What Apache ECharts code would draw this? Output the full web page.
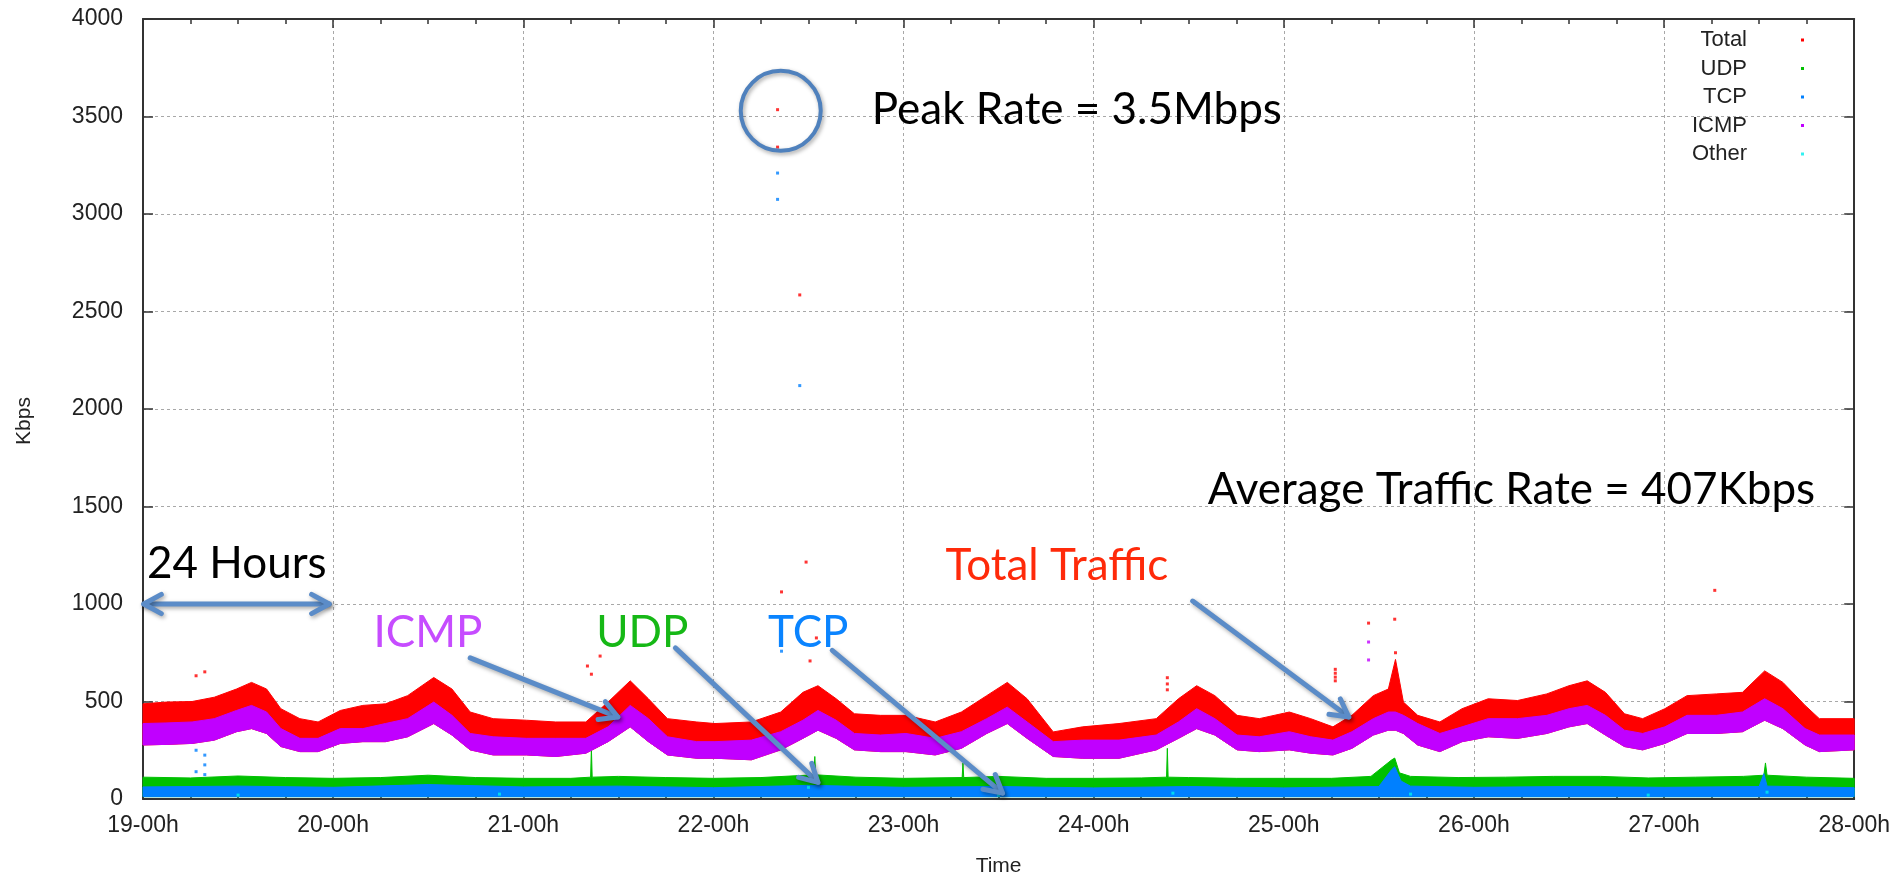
<!DOCTYPE html>
<html>
<head>
<meta charset="utf-8">
<script src="https://cdn.jsdelivr.net/npm/echarts@6/dist/echarts.min.js"></script>
<style>
html,body{margin:0;padding:0;background:#fff;}
#main{width:1893px;height:883px;}
</style>
</head>
<body>
<div id="main"></div>
<script>
// ---------------- DATA ----------------
const xTickLabels = ['19-00h','20-00h','21-00h','22-00h','23-00h','24-00h','25-00h','26-00h','27-00h','28-00h'];
const seriesNames = ['Total','UDP','TCP','ICMP','Other'];

// hours since 19-00h
const bandHours = [0,2.9,6.2,9.0,11.8,13.7,15.6,17.4,19.8,22.1,24.9,27.75,30.6,33.4,36.7,39.0,41.3,44.2,48.4,52.1,55.9,58.7,61.5,63.8,66.2,69.9,
  72.2,76.8,80.5,83.3,85.2,87.5,89.8,93.1,96.3,100.0,103.3,106.5,109.1,111.6,114.9,118.6,123.2,127.9,130.7,133.0,135.3,138.1,140.9,
  144.7,147.4,150.2,152.6,155.3,157.2,158.1,159.1,160.9,163.7,166.5,169.8,173.5,177.2,180.0,182.3,184.6,187.0,189.3,192.1,194.9,198.6,201.9,204.7,207.0,209.8,211.6,216];
const totalUpper = [488,497,500,522,564,598,564,463,412,395,454,480,488,530,623,564,446,412,404,395,395,497,606,514,412,395,
  387,395,446,547,581,514,437,429,429,395,446,530,598,514,344,370,387,412,514,581,530,429,412,
  446,412,370,429,530,564,716,497,429,395,463,514,505,539,581,606,547,437,412,463,530,539,547,657,598,480,412,412];
const icmpUpper = [387,390,395,412,454,480,446,361,311,311,361,361,387,412,497,429,336,319,311,311,311,370,480,412,319,294,
  294,302,345,404,454,404,336,328,336,311,345,412,471,395,294,302,302,328,395,463,412,328,319,
  345,319,302,345,412,446,446,429,387,336,370,412,412,429,463,480,429,353,336,370,429,429,446,514,463,361,328,328];
const icmpLower = [277,280,285,302,345,361,336,269,243,243,285,294,294,319,387,328,252,226,226,218,235,294,370,294,226,209,
  209,201,252,311,353,311,252,243,243,226,260,336,387,311,218,209,209,252,311,361,328,252,243,
  252,235,226,260,328,353,353,336,277,243,294,319,311,336,370,387,328,269,252,285,336,336,345,404,361,277,243,252];

const udpHours = [0,6,12,18,24,30,36,42,48,54,56.5,56.6,56.7,60,66,72,78,84.7,84.8,84.9,90,96,103.4,103.5,103.6,108,114,120,126,129.2,
  129.3,129.4,132,138,144,150,155,157.6,158.0,158.6,160,166,172,178,184,190,196,202,204.6,204.8,205.0,210,216];
const udpUpper = [112,108,118,110,106,110,122,110,106,106,112,260,112,116,110,106,110,124,218,124,112,106,110,184,110,116,106,106,108,112,
  260,112,110,106,106,106,116,200,210,134,116,110,112,116,116,108,112,116,122,185,122,112,106];
const udpLower = [12,12,12,12,12,12,12,12,12,12,12,12,12,12,12,12,12,12,12,12,12,12,12,12,12,12,12,12,12,12,
  12,12,12,12,12,12,12,12,12,12,12,12,12,12,12,12,12,12,12,12,12,12,12];

const tcpHours = [0,12,24,36,48,60,72,84,96,108,120,132,144,156,157.6,158.0,158.8,160,168,180,192,204,204.6,205.0,216];
const tcpUpper = [62,66,60,74,62,66,58,70,60,64,57,64,57,64,150,165,92,66,60,64,60,64,130,66,58];
const tcpLower = [12,12,12,12,12,12,12,12,12,12,12,12,12,12,12,12,12,12,12,12,12,12,12,12,12];

// isolated points [hour, kbps]
const totalDots = [[6.7,632],[7.8,652],[56.1,682],[56.6,640],[57.7,733],[80.1,3535],[80.1,3343],[80.6,1062],[82.9,2585],
  [83.7,1215],[84.2,708],[85.0,826],[129.3,560],[129.3,590],[129.3,622],[150.5,606],[150.5,625],[150.5,645],[150.5,665],
  [154.7,902],[158.0,922],[158.1,750],[198.4,1070]];
const tcpDots = [[80.1,3210],[80.1,3075],[82.9,2120],[80.6,758],[6.7,250],[7.8,225],[7.8,175],[6.7,140],[7.8,125]];
const icmpDots = [[154.7,805],[154.7,713]];
const otherDots = [[12,20],[45,25],[84,60],[108,20],[130,30],[160,25],[190,20],[205,35]];

// ------------- annotations (data coordinates) -------------
const annotationTexts = [
  {text:'Peak Rate = 3.5Mbps', at:[92.0,3534], color:'#000000'},
  {text:'Average Traffic Rate = 407Kbps', at:[134.4,1588], color:'#000000'},
  {text:'Total Traffic', at:[101.3,1198], color:'#ff2a0a'},
  {text:'24 Hours', at:[0.5,1204], color:'#000000'},
  {text:'ICMP', at:[29.1,850], color:'#c64cff'},
  {text:'UDP', at:[57.2,850], color:'#16b816'},
  {text:'TCP', at:[78.9,850], color:'#0a84ff'}
];
const annotationArrows = [
  {from:[0.1,1000], to:[23.5,1000], both:true},
  {from:[41.3,724], to:[59.95,420]},
  {from:[67.2,775], to:[85.2,85]},
  {from:[87.0,762], to:[108.5,30]},
  {from:[132.5,1015], to:[152.2,420]}
];
const peakCircle = {center:[80.5,3529]};

// ---------------- CHART ----------------
const colors = {Total:'#ff0000', UDP:'#00c000', TCP:'#0080ff', ICMP:'#c000ff', Other:'#00eeee'};
const FONT = '"Liberation Sans", Arial, sans-serif';

function bandSeries(name, hours, lower, upper) {
  const color = colors[name];
  return {
    type:'custom', name:name, coordinateSystem:'cartesian2d',
    itemStyle:{color:color},
    data: hours.map((h,i)=>[h, lower[i], upper[i]]),
    encode:{x:0, y:[1,2]},
    silent:true,
    renderItem:function(params, api){
      if (params.dataIndex !== 0) return null;
      const pts = [];
      for (let i=0;i<hours.length;i++) pts.push(api.coord([hours[i], upper[i]]));
      for (let i=hours.length-1;i>=0;i--) pts.push(api.coord([hours[i], lower[i]]));
      return {type:'polygon', shape:{points:pts}, style:{fill:color, stroke:color, lineWidth:1}};
    }
  };
}
function dotSeries(name, pts) {
  return {type:'scatter', name:name, data:pts, symbol:'rect', symbolSize:3,
    itemStyle:{color:colors[name]}, silent:true};
}

const axisColor = '#333';
const gridLine = {show:true, lineStyle:{color:'#a8a8a8', type:[3,3], width:1}};

const option = {
  animation:false,
  color: seriesNames.map(n=>colors[n]),
  grid:{left:143, right:25, top:19, bottom:84, containLabel:false},
  legend:{
    data: seriesNames.map(n=>({name:n})),
    orient:'vertical', right:89, top:28, align:'right', padding:0,
    icon:'rect', itemWidth:3, itemHeight:3, itemGap:4.5,
    selectedMode:false,
    textStyle:{fontFamily:FONT, fontSize:22, color:'#222', lineHeight:24, padding:[0,49,0,0]}
  },
  xAxis:[{
    type:'value', min:0, max:216, interval:24, position:'bottom',
    axisLine:{show:true, onZero:false, lineStyle:{color:axisColor, width:2}},
    axisTick:{show:true, inside:true, length:9, lineStyle:{color:axisColor, width:1.5}},
    minorTick:{show:true, splitNumber:4, length:5, lineStyle:{color:axisColor, width:1.5}},
    axisLabel:{formatter:v=>xTickLabels[Math.round(v/24)], fontFamily:FONT, fontSize:23, color:'#222', margin:15},
    splitLine:gridLine,
    name:'Time', nameLocation:'middle', nameGap:57,
    nameTextStyle:{fontFamily:FONT, fontSize:21, color:'#222'}
  },{
    type:'value', min:0, max:216, interval:24, position:'top',
    axisLine:{show:true, onZero:false, lineStyle:{color:axisColor, width:2}},
    axisTick:{show:true, inside:true, length:9, lineStyle:{color:axisColor, width:1.5}},
    minorTick:{show:true, splitNumber:4, length:5, lineStyle:{color:axisColor, width:1.5}},
    axisLabel:{show:false}, splitLine:{show:false}
  }],
  yAxis:[{
    type:'value', min:0, max:4000, interval:500, position:'left',
    axisLine:{show:true, onZero:false, lineStyle:{color:axisColor, width:2}},
    axisTick:{show:true, inside:true, length:10, lineStyle:{color:axisColor, width:1.5}},
    axisLabel:{formatter:v=>String(v), fontFamily:FONT, fontSize:23, color:'#222', margin:20},
    splitLine:gridLine,
    name:'Kbps', nameLocation:'middle', nameGap:108,
    nameTextStyle:{fontFamily:FONT, fontSize:21, color:'#222', padding:[0,24,0,0]}
  },{
    type:'value', min:0, max:4000, interval:500, position:'right',
    axisLine:{show:true, onZero:false, lineStyle:{color:axisColor, width:2}},
    axisTick:{show:true, inside:true, length:10, lineStyle:{color:axisColor, width:1.5}},
    axisLabel:{show:false}, splitLine:{show:false}
  }],
  series:[
    bandSeries('Total', bandHours, icmpLower, totalUpper),
    dotSeries('Total', totalDots),
    bandSeries('UDP', udpHours, udpLower, udpUpper),
    bandSeries('TCP', tcpHours, tcpLower, tcpUpper),
    dotSeries('TCP', tcpDots),
    bandSeries('ICMP', bandHours, icmpLower, icmpUpper),
    dotSeries('ICMP', icmpDots),
    dotSeries('Other', otherDots)
  ]
};

const chart = echarts.init(document.getElementById('main'), null, {renderer:'canvas'});
chart.setOption(option);

// ---------- annotations via the chart's own coordinate conversion ----------
function px(p){ return chart.convertToPixel({xAxisIndex:0, yAxisIndex:0}, p); }
const arrowColor = '#5b8cc8';
const shadow = {shadowBlur:4, shadowColor:'rgba(0,0,0,0.35)', shadowOffsetX:1.5, shadowOffsetY:2};
const graphics = [];
annotationTexts.forEach(a=>{
  const p = px(a.at);
  graphics.push({type:'text', x:p[0], y:p[1], z:100,
    style:{text:a.text, fill:a.color, font:'44px Lato, "Open Sans", sans-serif', textVerticalAlign:'middle', textAlign:'left'}});
});
function chevron(tip, from, len, ang) {
  const dx = from[0]-tip[0], dy = from[1]-tip[1];
  const d = Math.sqrt(dx*dx+dy*dy); const ux = dx/d, uy = dy/d;
  const c = Math.cos(ang), s = Math.sin(ang);
  const a1 = [tip[0] + len*(ux*c - uy*s), tip[1] + len*(ux*s + uy*c)];
  const a2 = [tip[0] + len*(ux*c + uy*s), tip[1] + len*(-ux*s + uy*c)];
  return [a1, tip, a2];
}
annotationArrows.forEach(a=>{
  const f = px(a.from), t = px(a.to);
  const ls = Object.assign({stroke:arrowColor, lineWidth:5, lineCap:'round', lineJoin:'round', fill:null}, shadow);
  graphics.push({type:'polyline', z:99, shape:{points:[f,t]}, style:ls});
  graphics.push({type:'polyline', z:99, shape:{points:chevron(t,f,20,0.5)}, style:ls});
  if (a.both) graphics.push({type:'polyline', z:99, shape:{points:chevron(f,t,20,0.5)}, style:ls});
});
const cc = px(peakCircle.center);
graphics.push({type:'circle', z:99, shape:{cx:cc[0], cy:cc[1], r:40},
  style:Object.assign({stroke:'#4f81bd', lineWidth:4, fill:null}, shadow)});
chart.setOption({graphic:graphics});
</script>
</body>
</html>
